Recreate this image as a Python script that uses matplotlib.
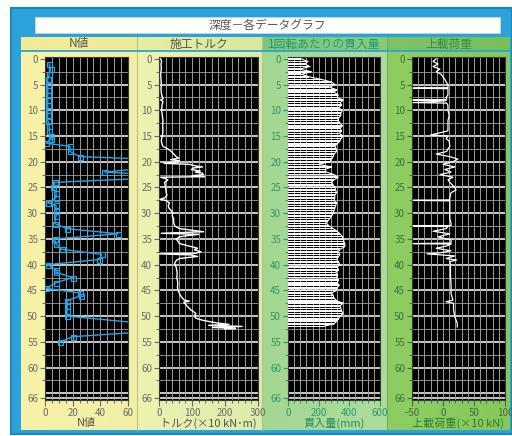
import numpy as np
import matplotlib
matplotlib.use("Agg")
import matplotlib.pyplot as plt
from matplotlib.patches import Rectangle
from matplotlib.colors import to_rgb

plt.rcParams['font.family'] = ['Noto Sans CJK JP', 'DejaVu Sans']

# ---------------- data ----------------
title = "深度－各データグラフ"
panel_titles = ["N値", "施工トルク", "1回転あたりの貫入量", "上載荷重"]
x_labels = ["N値", "トルク(×10 kN･m)", "貫入量(mm)", "上載荷重(×10 kN)"]
depth_ticks = [0, 5, 10, 15, 20, 25, 30, 35, 40, 45, 50, 55, 60, 66]

# N value (standard penetration test)
n_depth = [1, 2, 3, 4, 5, 6, 7, 8, 9, 10, 11, 12, 13, 14, 15, 15.5, 16.4, 17, 18, 19,
           19.5, 21.2, 22, 22.5, 23.2, 24, 25, 26, 27, 28, 28.5, 29.5, 30.5, 32, 33,
           34, 35, 36, 37, 38, 39, 40, 41, 41.5, 42.5, 43.5, 44.6, 45.5, 46, 47, 48,
           49, 50, 51.5, 53, 54, 55]
n_value = [3, 4, 3, 2, 2, 2, 2, 2, 2, 2, 2, 2, 3, 3, 4, 4, 1, 18, 18, 25,
           75, 75, 43, 75, 75, 7, 6, 8, 8, 2, 8, 8, 8, 7, 16,
           53, 7, 8, 12, 41, 39, 2, 8, 8, 20, 8, 1, 25, 26, 16, 16,
           16, 16, 75, 75, 20, 11]

# installation torque
t_depth = [0.0, 0.5, 1.0, 2.0, 3.0, 4.0, 5.0, 6.0, 7.0, 7.8, 8.0, 8.3, 9.0, 10.0, 11.0,
           12.0, 13.0, 14.0, 15.0, 15.5, 16.0, 16.5, 17.0, 17.5, 18.0, 18.5, 19.0, 19.3,
           19.6, 19.8, 20.0, 20.3, 20.5, 20.8, 21.0, 21.2, 21.5, 21.8, 22.0, 22.2, 22.5,
           22.7, 22.9, 23.0, 23.3, 23.5, 24.0, 25.0, 26.0, 26.5, 27.0, 27.3, 27.5, 28.0,
           28.5, 29.0, 29.5, 30.0, 30.5, 31.0, 32.0, 32.5, 33.0, 33.3, 33.6, 33.9, 34.1,
           34.4, 34.6, 35.0, 35.5, 35.9, 36.4, 36.8, 37.1, 37.5, 37.8, 37.9, 38.1, 38.4,
           38.8, 39.2, 39.8, 40.5, 41.5, 42.5, 43.5, 44.5, 45.0, 45.6, 46.2, 46.9, 47.1,
           47.3, 48.2, 48.8, 49.5, 50.0, 50.4, 50.8, 51.3, 51.6, 51.8, 52.0, 52.2, 52.4,
           52.5]
t_value = [5, 8, 6, 7, 5, 6, 7, 6, 8, 12, 5, 12, 9, 8, 10,
           12, 11, 12, 10, 8, 7, 9, 12, 27, 37, 45, 52, 60,
           35, 62, 55, 15, 92, 110, 132, 105, 98, 125, 110, 130, 135,
           100, 138, 5, 20, 27, 17, 20, 22, 24, 18, 3, 20, 32,
           28, 30, 37, 42, 40, 44, 45, 48, 62, 100, 135, 7, 120,
           80, 62, 52, 58, 62, 92, 117, 107, 127, 110, 0, 95, 117,
           62, 52, 47, 52, 55, 54, 57, 56, 58, 62, 67, 77, 92,
           75, 87, 97, 112, 107, 112, 132, 172, 212, 150, 252, 162, 232,
           200]

# penetration per revolution, every 0.5 m from 0 m
p_start, p_step = 0.0, 0.5
p_value = [87, 130, 110, 142, 76, 153, 87, 140, 218, 284, 306, 270, 317, 300, 328,
           320, 360, 340, 350, 330, 355, 345, 345, 330, 328, 340, 355, 340, 350, 335,
           360, 345, 338, 320, 306, 315, 317, 300, 295, 285, 273, 196, 284, 240, 251,
           300, 328, 300, 284, 295, 306, 310, 317, 305, 306, 300, 317, 310, 306, 300,
           295, 285, 273, 260, 251, 270, 295, 320, 338, 355, 360, 365, 371, 370, 340,
           328, 338, 328, 317, 330, 338, 320, 330, 310, 325, 315, 330, 320, 335, 320,
           317, 284, 295, 300, 317, 360, 338, 345, 350, 360, 338, 330, 317, 300, 229]
p_depth = [p_start + p_step * i for i in range(len(p_value))]

# surcharge load
l_depth = [0.0, 0.5, 1.0, 1.5, 2.0, 2.5, 3.0, 3.5, 4.0, 4.5, 5.0, 5.6, 5.7, 5.8, 6.0,
           7.0, 7.5, 7.9, 8.0, 8.1, 8.3, 8.5, 8.6, 9.0, 10.0, 11.0, 12.0, 13.0, 14.0,
           14.8, 15.0, 15.5, 16.0, 17.0, 17.5, 18.0, 18.5, 19.0, 19.5, 20.0, 20.5, 21.0,
           21.5, 22.0, 22.5, 23.0, 23.5, 24.0, 25.0, 25.5, 26.0, 27.0, 27.4, 27.5, 27.6,
           28.0, 29.0, 30.0, 31.0, 32.0, 32.4, 32.5, 32.6, 33.0, 33.5, 34.0, 34.6, 35.2,
           35.8, 35.9, 36.0, 36.4, 36.8, 37.3, 37.7, 37.9, 38.3, 38.8, 39.1, 39.4, 40.0,
           42.0, 44.0, 45.6, 46.9, 47.2, 47.5, 48.8, 50.1, 51.4, 52.1]
l_value = [-11, -16, -8, -16, -5, -11, -3, 0, 3, 5, 8, 8, -48, 8, 8,
           8, 5, 6, -48, 5, -13, -48, 6, 8, 8, 10, 8, 8, 8,
           -20, 8, 5, 10, 11, 8, 6, -11, 11, 24, 16, 0, 19,
           3, 13, -5, 16, 8, 11, 19, 21, 13, 11, 11, -48, 11,
           11, 11, 11, 11, 13, 13, -48, 8, 5, -16, 11, -8, 13,
           13, -48, 13, 5, -11, 13, -5, -26, 19, 5, 22, 11, 12,
           12, 13, 13, 16, 5, 17, 17, 19, 23, 23]

x_limits = [(0, 60), (0, 300), (0, 600), (-50, 100)]
x_major = [[0, 20, 40, 60], [0, 100, 200, 300], [0, 200, 400, 600], [-50, 0, 50, 100]]
x_minor_step = [5, 20, 40, 10]

# ---------------- layout (pixel geometry) ----------------
W, H = 512, 436
fig = plt.figure(figsize=(W / 100, H / 100), dpi=100)
fig.patch.set_facecolor('white')

bg = fig.add_axes([0, 0, 1, 1])
bg.set_xlim(0, W)
bg.set_ylim(H, 0)
bg.axis('off')

# outer blue frame
bg.add_patch(Rectangle((11, 8), W - 11, 426, facecolor='#2ba3da', edgecolor='#1b86c4', lw=1.5))
# title box
bg.add_patch(Rectangle((35, 17), 465, 16, facecolor='white', edgecolor='#c8d8e0', lw=0.6))
bg.text(267, 25.5, title, ha='center', va='center', fontsize=8.5, color='#555555')

panel_x = [(21, 137), (137, 262), (262, 387), (387, 510)]
body_cols = [('#f7f2a8', '#f2eea6'), ('#eef2b0', '#dcecab'),
             ('#a2d792', '#aedc9c'), ('#8fcd63', '#87c85a')]
head_cols = [('#f3eb95', '#f0ea98'), ('#e8eda2', '#d9e89c'),
             ('#7ec77a', '#88cb7a'), ('#7ec366', '#78bf5c')]
head_txt = ['#555555', '#555555', '#1f9a78', '#3a8a48']


def hgrad(x0, x1, y0, y1, c0, c1):
    a = np.array(to_rgb(c0))
    b = np.array(to_rgb(c1))
    t = np.linspace(0, 1, 64)[None, :, None]
    img = a + (b - a) * t
    bg.imshow(img, extent=(x0, x1, y1, y0), aspect='auto', interpolation='bilinear', zorder=1)


for i, (x0, x1) in enumerate(panel_x):
    hgrad(x0, x1, 37, 51, *head_cols[i])
    hgrad(x0, x1, 52, 430, *body_cols[i])
    bg.text((x0 + x1) / 2, 44, panel_titles[i], ha='center', va='center',
            fontsize=8.5, color=head_txt[i], zorder=3)
    if i > 0:
        bg.plot([x0, x0], [37, 430], color='#b9c08a' if i < 3 else '#6fae60', lw=0.8, zorder=2)
bg.plot([21, 510], [51.5, 51.5], color='#2ba3da', lw=1.3, zorder=2)
bg.set_xlim(0, W)
bg.set_ylim(H, 0)

# plot areas
axes_px = [(45, 128), (159, 258), (288, 380), (412, 505)]
y_top, y_bot = 57.3, 400.0
tick_cols = ['#6b6b6b', '#6b6b6b', '#2b9a6e', '#3f6f46']
lab_cols = ['#555555', '#555555', '#2a8a5e', '#2f7a3a']

for i, (x0, x1) in enumerate(axes_px):
    ax = fig.add_axes([x0 / W, 1 - y_bot / H, (x1 - x0) / W, (y_bot - y_top) / H])
    ax.set_facecolor('black')
    ax.set_ylim(66.3, -0.3)
    ax.set_xlim(*x_limits[i])
    lo, hi = x_limits[i]
    step = x_minor_step[i]

    # grid
    for d in np.arange(2.5, 66, 2.5):
        major = abs(d % 5) < 1e-6
        ax.axhline(d, color='white' if major else '#8a8a8a', lw=1.1 if major else 0.7, zorder=1)
    ax.axhline(66, color='white', lw=1.1, zorder=1)
    for xv in np.arange(lo + step, hi, step):
        ax.axvline(xv, color='#9c9c9c', lw=0.7, zorder=1)

    # data
    if i == 0:
        ax.plot(n_value, n_depth, color='#22a6ea', lw=1.0, marker='s', ms=3.6,
                mfc='none', mec='#22a6ea', mew=0.9, zorder=3)
    elif i == 1:
        ax.plot(t_value, t_depth, color='white', lw=1.0, zorder=3)
    elif i == 2:
        ax.barh(p_depth, p_value, height=0.32, color='white', lw=0, zorder=3)
        ax.plot(p_value, p_depth, color='white', lw=0.8, zorder=3)
    else:
        ax.plot(l_value, l_depth, color='white', lw=0.9, zorder=3)

    # ticks
    ax.set_yticks(depth_ticks)
    ax.set_yticklabels([str(v) for v in depth_ticks])
    ax.set_yticks(np.arange(2.5, 66, 5), minor=True)
    ax.set_xticks(x_major[i])
    ax.set_xticks(np.arange(lo, hi + 0.1, step), minor=True)
    ax.tick_params(axis='both', which='major', labelsize=7, colors=tick_cols[i],
                   length=3.5, width=0.8, pad=1.5)
    ax.tick_params(axis='both', which='minor', colors=tick_cols[i], length=2.5, width=0.7)
    ax.tick_params(axis='x', which='major', length=4, pad=1.5)
    ax.set_xlabel(x_labels[i], fontsize=8, color=lab_cols[i], labelpad=0)
    for s in ax.spines.values():
        s.set_color('#3a3a3a')
        s.set_linewidth(0.8)

fig.savefig('out.png', dpi=100, facecolor='white')
